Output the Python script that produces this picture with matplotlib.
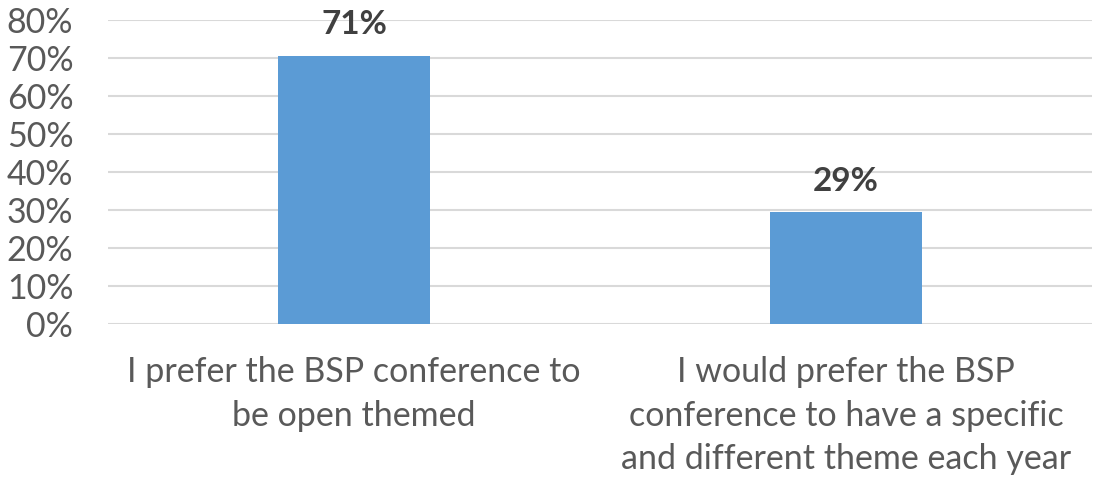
import matplotlib
matplotlib.use("Agg")
import matplotlib.pyplot as plt
from matplotlib.ticker import PercentFormatter

categories = [
    "I prefer the BSP conference to\nbe open themed",
    "I would prefer the BSP\nconference to have a specific\nand different theme each year",
]
shares = [12 / 17, 5 / 17]
labels = ["71%", "29%"]
yticks = [0, 0.1, 0.2, 0.3, 0.4, 0.5, 0.6, 0.7, 0.8]

plt.rcParams["font.family"] = ["Lato", "DejaVu Sans"]

fig = plt.figure(figsize=(10.94, 4.82), dpi=100)
ax = fig.add_axes([108 / 1094, 1 - 324 / 482, (1092 - 108) / 1094, (324 - 20) / 482])

x = range(len(categories))
bars = ax.bar(x, shares, width=0.31, color="#5B9BD5", zorder=3)
for b, lab in zip(bars, labels):
    ax.annotate(lab, (b.get_x() + b.get_width() / 2, b.get_height()),
                xytext=(0, 12), textcoords="offset points",
                ha="center", va="bottom", fontsize=24, fontweight="bold",
                color="#404040")

ax.set_xlim(-0.5, 1.5)
ax.set_ylim(0, 0.8)
ax.set_yticks(yticks)
ax.yaxis.set_major_formatter(PercentFormatter(1.0, decimals=0))
ax.set_xticks(list(x))
ax.set_xticklabels(categories, linespacing=1.45)
ax.tick_params(axis="y", length=0, pad=25, labelsize=24.5, labelcolor="#595959")
ax.tick_params(axis="x", length=0, pad=23, labelsize=24.5, labelcolor="#595959")
for s in ax.spines.values():
    s.set_visible(False)
ax.grid(axis="y", color="#d9d9d9", linewidth=1.5, zorder=0)

fig.savefig("out.png", dpi=100)
